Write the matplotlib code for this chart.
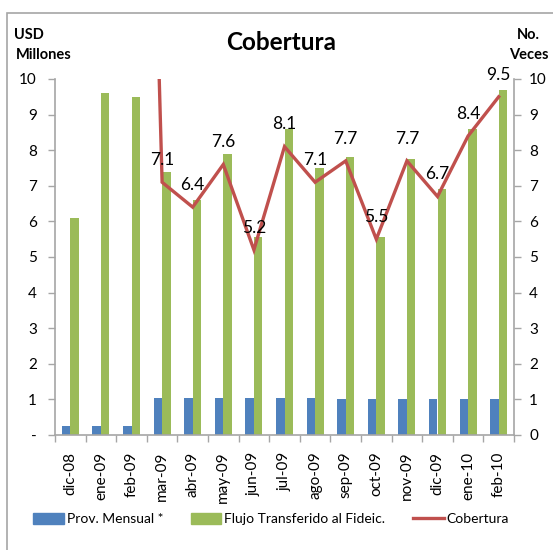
import matplotlib
matplotlib.use("Agg")
import matplotlib.pyplot as plt
from matplotlib.patches import Rectangle, Patch
from matplotlib.lines import Line2D

plt.rcParams['font.family'] = ['Lato', 'DejaVu Sans']

categories = ['dic-08', 'ene-09', 'feb-09', 'mar-09', 'abr-09', 'may-09', 'jun-09',
              'jul-09', 'ago-09', 'sep-09', 'oct-09', 'nov-09', 'dic-09', 'ene-10', 'feb-10']
prov_mensual = [0.25, 0.25, 0.25, 1.05, 1.05, 1.05, 1.05, 1.05, 1.05, 1.02, 1.02, 1.02, 1.02, 1.02, 1.02]
flujo = [6.1, 9.6, 9.5, 7.4, 6.6, 7.9, 5.55, 8.6, 7.5, 7.8, 5.55, 7.75, 6.9, 8.6, 9.7]
cobertura = [24.4, 38.4, 38.0, 7.1, 6.4, 7.6, 5.2, 8.1, 7.1, 7.7, 5.5, 7.7, 6.7, 8.4, 9.5]
left_ticks = [0, 1, 2, 3, 4, 5, 6, 7, 8, 9, 10]
left_ticklabels = ['-', '1', '2', '3', '4', '5', '6', '7', '8', '9', '10']
right_ticks = [0, 1, 2, 3, 4, 5, 6, 7, 8, 9, 10]

BLUE = '#4F81BD'
GREEN = '#9BBB59'
RED = '#C0504D'
GRAY = '#A6A6A6'

W, H = 553, 550
fig = plt.figure(figsize=(W / 100, H / 100), dpi=100)
ax = fig.add_axes([55 / W, 1 - 435 / H, (514 - 55) / W, (435 - 79) / H])

x = list(range(len(categories)))
bw = 0.28
ax.bar([i - 0.14 for i in x], prov_mensual, width=bw, color=BLUE, zorder=2)
ax.bar([i + 0.14 for i in x], flujo, width=bw, color=GREEN, zorder=2)
ax.set_xlim(-0.5, len(categories) - 0.5)
ax.set_ylim(0, 10)

ax.set_yticks(left_ticks)
ax.set_yticklabels(left_ticklabels, fontsize=11)
ax.set_xticks(x)
ax.set_xticklabels(categories, rotation=90, fontsize=11)
ax.tick_params(axis='x', length=0, pad=12)
ax.set_xticks([i - 0.5 for i in range(len(categories) + 1)], minor=True)
ax.tick_params(axis='x', which='minor', length=5, color=GRAY, width=1)
ax.tick_params(axis='y', length=5, color=GRAY, width=1, pad=8)
for s in ['top', 'right']:
    ax.spines[s].set_visible(False)
for s in ['left', 'bottom']:
    ax.spines[s].set_color(GRAY)
    ax.spines[s].set_linewidth(1.2)

ax2 = ax.twinx()
ax2.set_ylim(0, 10)
ax2.set_yticks(right_ticks)
ax2.set_yticklabels([str(t) for t in right_ticks], fontsize=11)
ax2.tick_params(axis='y', length=5, color=GRAY, width=1, pad=6)
for s in ['top', 'left', 'bottom']:
    ax2.spines[s].set_visible(False)
ax2.spines['right'].set_color(GRAY)
ax2.spines['right'].set_linewidth(1.2)
ax2.plot(x, cobertura, color=RED, lw=2.4, zorder=3, solid_joinstyle='miter')
for i, v in enumerate(cobertura):
    if v <= 10:
        ax2.annotate(f'{v:.1f}', (i, v), xytext=(0, 16), textcoords='offset points',
                     ha='center', va='center', fontsize=12.5, color='black')

fig.text(281 / W, 1 - 42 / H, 'Cobertura', ha='center', va='center', fontsize=17.5, fontweight='bold')
fig.text(14 / W, 1 - 35 / H, 'USD', ha='left', va='center', fontsize=10.5, fontweight='bold')
fig.text(16 / W, 1 - 55 / H, 'Millones', ha='left', va='center', fontsize=10.5, fontweight='bold')
fig.text(540 / W, 1 - 35 / H, 'No.', ha='right', va='center', fontsize=10.5, fontweight='bold')
fig.text(549 / W, 1 - 55 / H, 'Veces', ha='right', va='center', fontsize=10.5, fontweight='bold')

handles = [Patch(color=BLUE), Patch(color=GREEN), Line2D([0], [0], color=RED, lw=2.4)]
labels = ['Prov. Mensual *', 'Flujo Transferido al Fideic.', 'Cobertura']
fig.legend(handles, labels, loc='center', bbox_to_anchor=(271 / W, 1 - 519 / H), ncol=3,
           frameon=False, fontsize=10, handlelength=2.2, handleheight=0.9,
           columnspacing=2.0, handletextpad=0.2)

fig.patches.append(Rectangle((7 / W, -0.1), 1.2, 1 - 13 / H + 0.1, transform=fig.transFigure,
                             fill=False, edgecolor=GRAY, lw=1.2))

fig.savefig('out.png', dpi=100)
